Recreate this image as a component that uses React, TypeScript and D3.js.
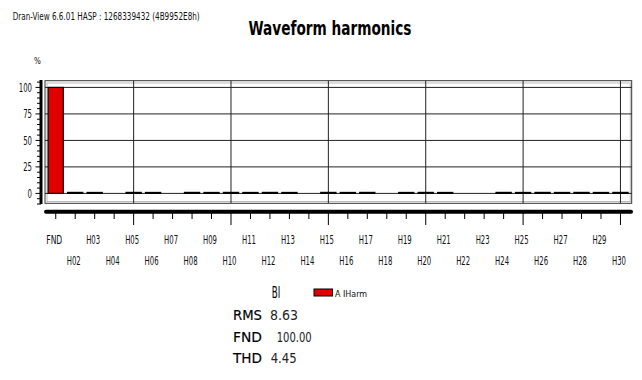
import React from 'react';
import * as d3 from 'd3';

const categories = ['FND','H02','H03','H04','H05','H06','H07','H08','H09','H10','H11','H12','H13','H14','H15','H16','H17','H18','H19','H20','H21','H22','H23','H24','H25','H26','H27','H28','H29','H30'];
const values = [100, 0.95, 0.9, 0, 0.95, 0.9, 0, 0.95, 0.9, 0.95, 0.9, 0.95, 0.9, 0, 0.95, 0.9, 0.95, 0, 0.9, 0.95, 0.9, 0, 0, 0.95, 0.9, 0.95, 0.9, 0.95, 0.9, 0.95];
const yTicks = [0, 25, 50, 75, 100];
const gridCats = ['H05','H10','H15','H20','H25','H30'];
const statLabels = ['RMS', 'FND', 'THD'];
const statValues = ['8.63', '100.00', '4.45'];
const seriesName = 'A IHarm';
const channelName = 'BI';
const title = 'Waveform harmonics';
const header = 'Dran-View 6.6.01 HASP : 1268339432 (4B9952E8h)';

const NARROW = "'Liberation Sans Narrow','Arial Narrow','DejaVu Sans Condensed','Liberation Sans',sans-serif";

export default function App() {
  const frame = { l: 45, r: 631.7, t: 80.7, b: 203.3 };
  const x = d3.scaleBand<string>().domain(categories).range([46, 630.2]).paddingInner(0.22).paddingOuter(0.11);
  const y = d3.scaleLinear().domain([-10, 107]).range([204, 80]);
  const bw = x.bandwidth();
  const cx = (c: string) => (x(c) as number) + bw / 2;
  const minor = d3.range(-10, 106, 5);
  const statY = [320, 341.7, 363];
  const statW = [29, 29, 29];
  const valX = [270, 276.7, 270.7];
  const valW = [28, 35, 26];

  return (
    <svg width={642} height={380} style={{ position: 'absolute', left: 0, top: 0, background: '#fff' }} fontFamily={NARROW}>
      <rect x={0} y={0} width={642} height={380} fill="#fff" />
      <text x={12.7} y={19.5} fontSize={10.5} textLength={187} lengthAdjust="spacingAndGlyphs" fill="#111">{header}</text>
      <text x={330} y={35} fontSize={20} fontWeight="bold" textAnchor="middle" textLength={163} lengthAdjust="spacingAndGlyphs" fill="#000">{title}</text>
      <text x={37.5} y={64} fontSize={8} textAnchor="middle" fill="#111">%</text>

      {/* frame */}
      <rect x={frame.l} y={frame.t} width={frame.r - frame.l} height={frame.b - frame.t} fill="none" stroke="#333" strokeWidth={1} />
      <rect x={frame.l + 2} y={frame.t + 2.3} width={frame.r - frame.l - 3.5} height={frame.b - frame.t - 4} fill="none" stroke="#aaa" strokeWidth={0.8} />

      {/* horizontal grid */}
      {yTicks.map(t => (
        <line key={'hg' + t} x1={frame.l} x2={frame.r} y1={y(t)} y2={y(t)} stroke="#222" strokeWidth={1} />
      ))}
      {/* vertical grid */}
      {gridCats.map(c => (
        <line key={'vg' + c} x1={cx(c)} x2={cx(c)} y1={frame.t} y2={frame.b} stroke="#222" strokeWidth={1} />
      ))}

      {/* bars */}
      {values.map((v, i) => v > 0 ? (
        <rect key={'b' + i} x={x(categories[i])} y={y(v)} width={bw} height={y(0) - y(v)} fill="#e00000" stroke="#000" strokeWidth={1.2} />
      ) : null)}

      {/* y axis */}
      <line x1={41} x2={41} y1={80} y2={204} stroke="#000" strokeWidth={3} />
      {minor.map(t => (
        <line key={'ym' + t} x1={yTicks.includes(t) ? 35.5 : 37} x2={41} y1={y(t)} y2={y(t)} stroke="#000" strokeWidth={1} />
      ))}
      {yTicks.map(t => (
        <text key={'yl' + t} x={32} y={y(t)} dy="0.36em" fontSize={12.5} textAnchor="end" textLength={String(t).length * 4.4} lengthAdjust="spacingAndGlyphs" fill="#111">{t}</text>
      ))}

      {/* x axis */}
      <line x1={46} x2={631} y1={211.7} y2={211.7} stroke="#000" strokeWidth={4} strokeLinecap="round" />
      {categories.map((c, i) => (
        <line key={'xt' + c} x1={cx(c)} x2={cx(c)} y1={213} y2={i > 0 && (i + 1) % 5 === 0 ? 225 : 219} stroke="#000" strokeWidth={1} />
      ))}
      {categories.map((c, i) => (
        <text key={'xl' + c} x={cx(c) - 1.5} y={i % 2 === 0 ? 243.5 : 265} fontSize={12.5} textAnchor="middle" textLength={i === 0 ? 16 : 14} lengthAdjust="spacingAndGlyphs" fill="#111">{c}</text>
      ))}

      {/* legend / stats */}
      <text x={271.7} y={298} fontSize={15} textLength={8.5} lengthAdjust="spacingAndGlyphs" fill="#000">{channelName}</text>
      <rect x={314} y={289} width={18.5} height={7} fill="#e00000" stroke="#000" strokeWidth={1} />
      <text x={335} y={296.5} fontSize={9.5} textLength={32} lengthAdjust="spacingAndGlyphs" fill="#111">{seriesName}</text>
      {statLabels.map((s, i) => (
        <text key={'sl' + s} x={233} y={statY[i]} fontSize={14.5} textLength={statW[i]} lengthAdjust="spacingAndGlyphs" fill="#000" stroke="#000" strokeWidth={0.15}>{s}</text>
      ))}
      {statValues.map((s, i) => (
        <text key={'sv' + i} x={valX[i]} y={statY[i]} fontSize={14.5} textLength={valW[i]} lengthAdjust="spacingAndGlyphs" fill="#222">{s}</text>
      ))}
    </svg>
  );
}
